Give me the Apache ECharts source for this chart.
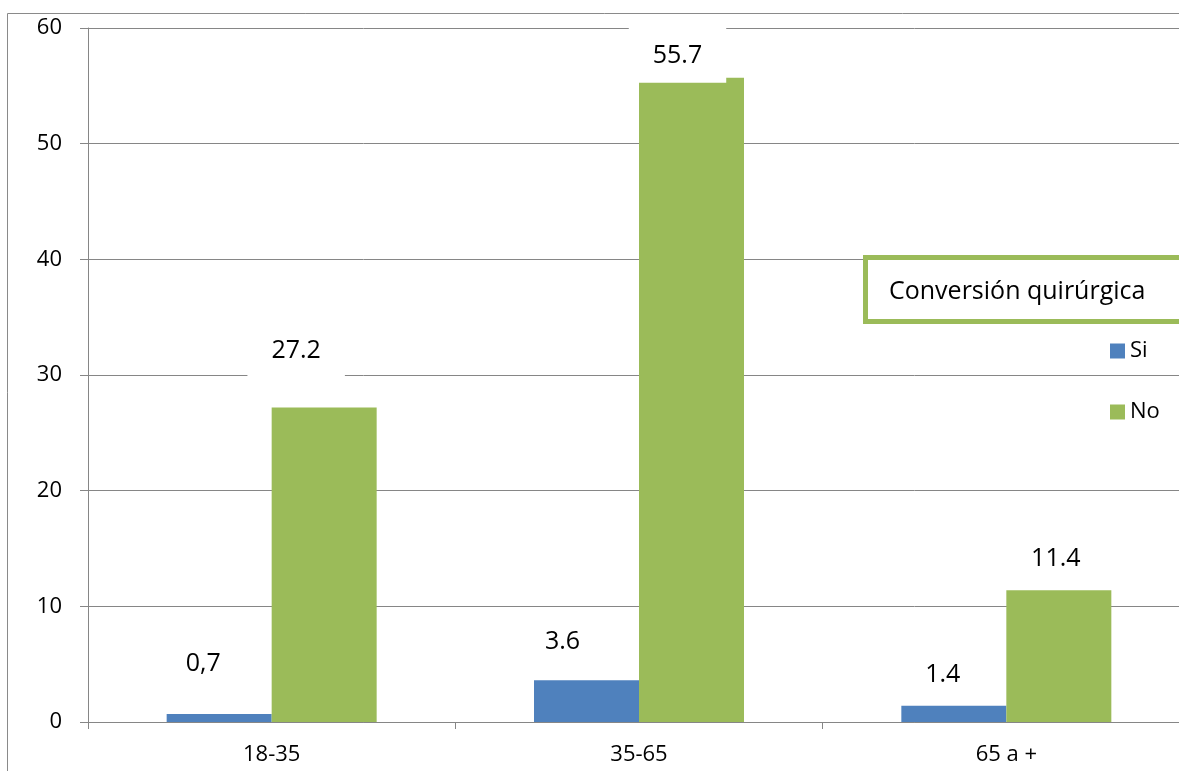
<!DOCTYPE html>
<html>
<head>
<meta charset="utf-8">
<script src="https://cdn.jsdelivr.net/npm/echarts@6/dist/echarts.min.js"></script>
<style>
  html, body { margin: 0; padding: 0; background: #fff; overflow: hidden; }
  #chart { width: 1200px; height: 771px; }
</style>
</head>
<body>
<div id="chart"></div>
<script>
// Age groups and the two answers of the "Conversión quirúrgica" question
const categories = ['18-35', '35-65', '65 a +'];
const siValues = [0.7, 3.6, 1.4];
const noValues = [27.2, 55.7, 11.4];
const siLabels = ['0,7', '3.6', '1.4'];
const noLabels = ['27.2', '55.7', '11.4'];
const yTicks = { min: 0, max: 60, interval: 10 };

// Hand-placed data label positions (distance above the bar, horizontal shift)
const siLabelDistance = [37, 25, 18];
const siLabelShift = [-16, -24, -11];
const noLabelDistance = [30, -5, 18];
const noLabelShift = [-28, -14, -3];
const noLabelBoxed = [true, true, false];

const FONT = '"Open Sans", "Noto Sans", sans-serif';
const GRID_GRAY = '#868686';
const BLUE = '#4f81bd';
const GREEN = '#9bbb59';

function labelFor(text, distance, shift, boxed) {
  const lbl = {
    show: true,
    position: 'top',
    distance: distance,
    offset: [shift, 0],
    formatter: text,
    color: '#000',
    fontFamily: FONT,
    fontSize: 25,
    lineHeight: 26
  };
  if (boxed) {
    lbl.backgroundColor = '#fff';
    lbl.padding = [24, 24, 14, 24];
  }
  return lbl;
}

const siData = siValues.map((v, i) => ({
  value: v,
  label: labelFor(siLabels[i], siLabelDistance[i], siLabelShift[i], false)
}));
const noData = noValues.map((v, i) => ({
  value: v,
  label: labelFor(noLabels[i], noLabelDistance[i], noLabelShift[i], noLabelBoxed[i])
}));

const chart = echarts.init(document.getElementById('chart'), null, { renderer: 'canvas' });

chart.setOption({
  backgroundColor: '#fff',
  animation: false,
  textStyle: { fontFamily: FONT },
  // the plot runs slightly past the right edge of the visible page
  grid: { left: 88, top: 28, width: 1102, height: 694, containLabel: false },
  legend: {
    orient: 'vertical',
    left: 1110,
    top: 340,
    padding: 0,
    itemWidth: 15,
    itemHeight: 15,
    itemGap: 39,
    icon: 'rect',
    selectedMode: false,
    textStyle: { color: '#000', fontFamily: FONT, fontSize: 22, lineHeight: 22 },
    data: ['Si', 'No']
  },
  xAxis: {
    type: 'category',
    data: categories,
    axisLine: { show: true, lineStyle: { color: GRID_GRAY, width: 1 } },
    axisTick: { show: true, length: 7, interval: 0, lineStyle: { color: GRID_GRAY } },
    axisLabel: { color: '#000', fontFamily: FONT, fontSize: 22, margin: 22, interval: 0 },
    splitLine: { show: false }
  },
  yAxis: {
    type: 'value',
    min: yTicks.min,
    max: yTicks.max,
    interval: yTicks.interval,
    axisLine: { show: true, lineStyle: { color: GRID_GRAY, width: 1 } },
    axisTick: { show: true, length: 8, lineStyle: { color: GRID_GRAY } },
    axisLabel: { color: '#000', fontFamily: FONT, fontSize: 22, margin: 26 },
    splitLine: { show: true, lineStyle: { color: GRID_GRAY, width: 1 } }
  },
  series: [
    {
      name: 'Si',
      type: 'bar',
      data: siData,
      barWidth: 105,
      barGap: '0%',
      itemStyle: { color: BLUE }
    },
    {
      name: 'No',
      type: 'bar',
      data: noData,
      barWidth: 105,
      barGap: '0%',
      itemStyle: { color: GREEN }
    }
  ],
  graphic: [
    {
      // outer chart frame
      type: 'rect',
      z: -10,
      silent: true,
      shape: { x: 7.5, y: 13.5, width: 1300, height: 1000 },
      style: { fill: null, stroke: '#8a8a8a', lineWidth: 1 }
    },
    {
      // legend title box
      type: 'rect',
      z: 50,
      silent: true,
      shape: { x: 865.5, y: 257.5, width: 340, height: 64 },
      style: { fill: '#fff', stroke: GREEN, lineWidth: 5 }
    },
    {
      type: 'text',
      z: 51,
      silent: true,
      x: 889,
      y: 292,
      style: {
        text: 'Conversión quirúrgica',
        fill: '#000',
        font: '25px ' + FONT,
        textAlign: 'left',
        textVerticalAlign: 'middle'
      }
    }
  ]
});
</script>
</body>
</html>
